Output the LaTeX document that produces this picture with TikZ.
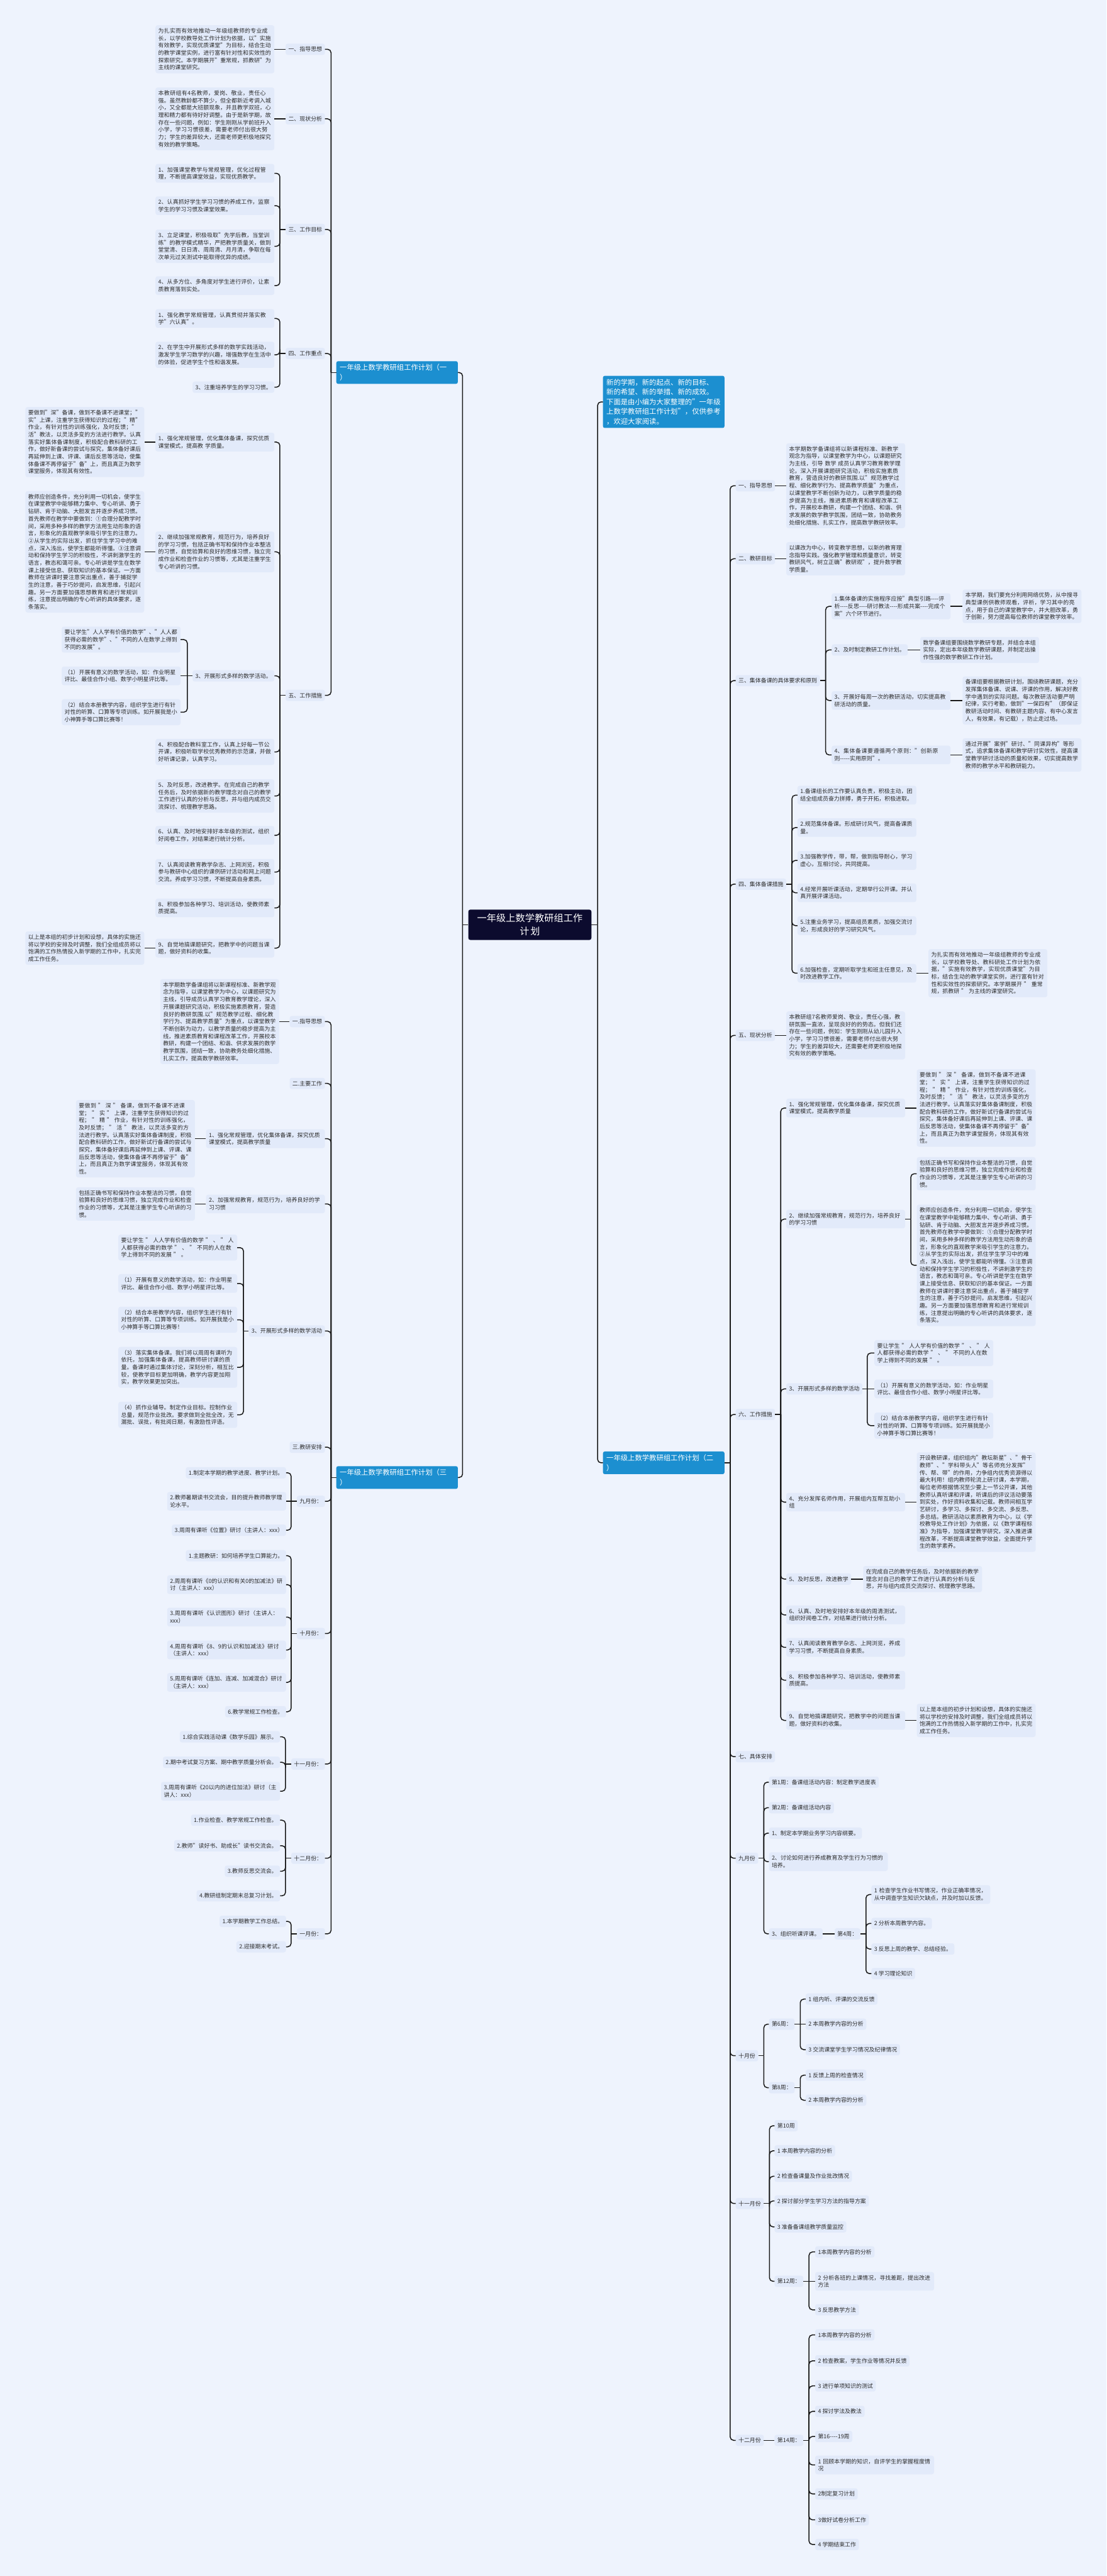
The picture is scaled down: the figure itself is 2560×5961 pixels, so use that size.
\documentclass[tikz,border=0pt]{standalone}
\usepackage{fontspec}
\setmainfont{Noto Sans CJK SC}
\XeTeXlinebreaklocale "zh"
\XeTeXlinebreakskip=0pt plus 1pt
\definecolor{bgC}{RGB}{238,243,253}
\definecolor{nodef}{RGB}{226,234,250}
\definecolor{blueC}{RGB}{28,143,208}
\definecolor{rootC}{RGB}{12,11,46}
\definecolor{txt}{RGB}{45,45,45}
\definecolor{linec}{RGB}{25,25,25}
\newcommand\hy{\mbox{-}}
\tikzset{
 conn/.style={draw=linec, line width=2.2pt, rounded corners=8pt},
 nbox/.style={fill=nodef, rounded corners=5pt, inner xsep=6.5pt, inner ysep=7pt, text=txt, font=\fontsize{13}{17}\selectfont},
 npara/.style={nbox, text width=262pt, align=left},
 nblue/.style={fill=blueC, rounded corners=4pt, text=white, inner xsep=8pt, inner ysep=7pt, font=\fontsize{16.5}{22.7}\selectfont, text width=265pt, align=left},
 nroot/.style={fill=rootC, rounded corners=5pt, text=white, font=\fontsize{22}{30}\selectfont, text width=262pt, align=center, inner xsep=11.5pt, inner ysep=10pt},
}
\newcommand\lcon[3]{\draw[conn] (#1.west) -- ++(-#2,0);\foreach \nn in {#3}{\draw[conn] (#1.west) ++(-#2,0) |- (\nn.east);}}
\newcommand\rcon[3]{\draw[conn] (#1.east) -- ++(#2,0);\foreach \nn in {#3}{\draw[conn] (#1.east) ++(#2,0) |- (\nn.west);}}
\newcommand\lstr[2]{\draw[conn] (#1.west) -- (#2.east);}
\newcommand\rstr[2]{\draw[conn] (#1.east) -- (#2.west);}
\begin{document}
\begin{tikzpicture}[x=1pt,y=-1pt]
\fill[bgC] (0,0) rectangle (2560,5961);
\useasboundingbox (0,0) rectangle (2560,5961);

% ---------------- centre and branches
\node[nroot] (ctr) at (1226,2140) {一年级上数学教研组工作\\计划};
\node[nblue,anchor=west] (b1) at (778,862) {一年级上数学教研组工作计划（一\\）};
\node[nblue,anchor=west] (b3) at (778,3419) {一年级上数学教研组工作计划（三\\）};
\node[nblue,anchor=west] (b2) at (1395,3385) {一年级上数学教研组工作计划（二\\）};
\node[nblue,anchor=west] (tb) at (1395,930) {新的学期，新的起点、新的目标、\\新的希望、新的举措、新的成效。\\下面是由小编为大家整理的"一年级\\上数学教研组工作计划"，仅供参考\\，欢迎大家阅读。};

% ---------------- left branch (一)
\node[nbox,anchor=east] (a1) at (752,114) {一、指导思想};
\node[npara,anchor=east] (a1p) at (635,114) {为扎实而有效地推动一年级组教师的专业成长，以学校教导处工作计划为依据，以"实施有效教学，实现优质课堂"为目标，结合生动的教学课堂实例，进行富有针对性和实效性的探索研究。本学期展开"重常规，抓教研"为主线的课堂研究。};
\node[nbox,anchor=east] (a2) at (752,275) {二、现状分析};
\node[npara,anchor=east] (a2p) at (635,275) {本教研组有4名教师，爱岗、敬业，责任心强。虽然教龄都不算少，但全都新近考调入城小，又全都是大班额现象，并且教学双班，心理和精力都有待好好调整。由于是新学期，故存在一些问题，例如：学生刚刚从学前班升入小学，学习习惯很差，需要老师付出很大努力；学生的差异较大，还需老师更积极地探究有效的教学策略。};
\node[nbox,anchor=east] (a3) at (752,531) {三、工作目标};
\node[npara,anchor=east] (a31) at (635,401) {1、加强课堂教学与常规管理，优化过程管理，不断提高课堂效益，实现优质教学。};
\node[npara,anchor=east] (a32) at (635,476) {2、认真抓好学生学习习惯的养成工作，监察学生的学习习惯及课堂效果。};
\node[npara,anchor=east] (a33) at (635,570) {3、立足课堂，积极吸取"先学后教，当堂训练"的教学模式精华，严把教学质量关，做到堂堂清、日日清、周周清、月月清，争取在每次单元过关测试中能取得优异的成绩。};
\node[npara,anchor=east] (a34) at (635,661) {4、从多方位、多角度对学生进行评价，让素质教育落到实处。};
\node[nbox,anchor=east] (a4) at (752,818) {四、工作重点};
\node[npara,anchor=east] (a41) at (635,737) {1、强化教学常规管理，认真贯彻并落实教学"六认真"。};
\node[npara,anchor=east] (a42) at (635,821) {2、在学生中开展形式多样的数学实践活动，激发学生学习数学的兴趣，增强数学在生活中的体验，促进学生个性和谐发展。};
\node[nbox,anchor=east] (a43) at (635,896) {3、注重培养学生的学习习惯。};
\node[nbox,anchor=east] (a5) at (752,1609) {五、工作措施};
\node[npara,anchor=east] (a51) at (635,1023) {1、强化常规管理，优化集体备课，探究优质课堂模式，提高教 学质量。};
\node[npara,anchor=east] (a51p) at (334,1023) {要做到"深"备课，做到不备课不进课堂；"实"上课，注重学生获得知识的过程；"精"作业，有针对性的训练强化，及时反馈；"活"教法，以灵活多变的方法进行教学。认真落实好集体备课制度，积极配合教科研的工作，做好新备课的尝试与探究，集体备好课后再延伸到上课、评课、课后反思等活动，使集体备课不再停留于"备"上，而且真正为数学课堂服务，体现其有效性。};
\node[npara,anchor=east] (a52) at (635,1277) {2、继续加强常规教育，规范行为，培养良好的学习习惯，包括正确书写和保持作业本整洁的习惯，自觉验算和良好的思维习惯，独立完成作业和检查作业的习惯等，尤其是注重学生专心听讲的习惯。};
\node[npara,anchor=east] (a52p) at (334,1277) {教师应创造条件，充分利用一切机会，使学生在课堂教学中能够精力集中、专心听讲、勇于钻研、肯于动脑、大胆发言并逐步养成习惯。首先教师在教学中要做到：①合理分配教学时间，采用多种多样的教学方法用生动形象的语言，形象化的直观教学来吸引学生的注意力。②从学生的实际出发，抓住学生学习中的难点，深入浅出，使学生都能听得懂。③注意调动和保持学生学习的积极性，不讲刺激学生的语言，教态和蔼可亲。专心听讲是学生在数学课上接受信息、获取知识的基本保证。一方面教师在讲课时要注意突出重点，善于捕捉学生的注意，善于巧妙提问，启发思维，引起兴趣。另一方面要加强思想教育和进行常规训练，注意提出明确的专心听讲的具体要求，逐条落实。};
\node[nbox,anchor=east] (a53) at (635,1564) {3、开展形式多样的数学活动。};
\node[npara,anchor=east] (a531) at (418,1480) {要让学生"人人学有价值的数学"、"人人都获得必需的数学"、"不同的人在数学上得到不同的发展"。};
\node[npara,anchor=east] (a532) at (418,1564) {（1）开展有意义的数学活动，如：作业明星评比、最佳合作小组、数学小明星评比等。};
\node[npara,anchor=east] (a533) at (418,1648) {（2）结合本册教学内容，组织学生进行有针对性的听算、口算等专项训练。如开展我是小小神算手等口算比赛等！};
\node[npara,anchor=east] (a54) at (635,1740) {4、积极配合教科室工作，认真上好每一节公开课，积极听取学校优秀教师的示范课，并做好听课记录，认真学习。};
\node[npara,anchor=east] (a55) at (635,1842) {5、及时反思，改进教学。在完成自己的教学任务后，及时依据新的教学理念对自己的教学工作进行认真的分析与反思，并与组内成员交流探讨、梳理教学思路。};
\node[npara,anchor=east] (a56) at (635,1933) {6、认真、及时地安排好本年级的测试，组织好阅卷工作，对结果进行统计分析。};
\node[npara,anchor=east] (a57) at (635,2018) {7、认真阅读教育教学杂志、上网浏览，积极参与教研中心组织的课例研讨活动和网上问题交流。养成学习习惯，不断提高自身素质。};
\node[npara,anchor=east] (a58) at (635,2101) {8、积极参加各种学习、培训活动，使教师素质提高。};
\node[npara,anchor=east] (a59) at (635,2194) {9、自觉地搞课题研究，把教学中的问题当课题，做好资料的收集。};
\node[npara,anchor=east] (a59p) at (334,2194) {以上是本组的初步计划和设想，具体的实施还将以学校的安排及时调整，我们全组成员将以饱满的工作热情投入新学期的工作中，扎实完成工作任务。};

% ---------------- left branch (三)
\node[nbox,anchor=east] (c1) at (752,2364) {一.指导思想};
\node[npara,anchor=east] (c1p) at (646,2364) {本学期数学备课组将以新课程标准、新教学观念为指导，以课堂教学为中心，以课题研究为主线，引导成员认真学习教育教学理论，深入开展课题研究活动，积极实施素质教育，营造良好的教研氛围.以"规范教学过程、细化教学行为、提高教学质量"为重点，以课堂教学不断创新为动力，以教学质量的稳步提高为主线，推进素质教育和课程改革工作，开展校本教研，构建一个团结、和谐、供求发展的数学教学氛围，团结一致，协助教务处细化措施、扎实工作，提高数学教研效率。};
\node[nbox,anchor=east] (c2) at (752,2507) {二.主要工作};
\node[npara,anchor=east] (c3) at (752,2635) {1、强化常规管理，优化集体备课，探究优质课堂模式，提高教学质量};
\node[npara,anchor=east] (c3p) at (451,2635) {要做到 " 深 " 备课，做到不备课不进课堂； " 实 " 上课，注重学生获得知识的过程； " 精 " 作业，有针对性的训练强化，及时反馈； " 活 " 教法，以灵活多变的方法进行教学。认真落实好集体备课制度，积极配合教科研的工作，做好新试行备课的尝试与探究，集体备好课后再延伸到上课、评课、课后反思等活动，使集体备课不再停留于"备"上，而且真正为数学课堂服务，体现其有效性。};
\node[npara,anchor=east] (c4) at (752,2786) {2、加强常规教育，规范行为，培养良好的学习习惯};
\node[npara,anchor=east] (c4p) at (451,2786) {包括正确书写和保持作业本整洁的习惯，自觉验算和良好的思维习惯，独立完成作业和检查作业的习惯等，尤其是注重学生专心听讲的习惯。};
\node[nbox,anchor=east] (c5) at (752,3080) {3、开展形式多样的数学活动};
\node[npara,anchor=east] (c51) at (549,2887) {要让学生 " 人人学有价值的数学 " 、 " 人人都获得必需的数学 " 、 " 不同的人在数学上得到不同的发展 " 。};
\node[npara,anchor=east] (c52) at (549,2970) {（1）开展有意义的数学活动，如：作业明星评比、最佳合作小组、数学小明星评比等。};
\node[npara,anchor=east] (c53) at (549,3054) {（2）结合本册教学内容，组织学生进行有针对性的听算、口算等专项训练。如开展我是小小神算手等口算比赛等！};
\node[npara,anchor=east] (c54) at (549,3164) {（3）落实集体备课。我们将以周周有课听为依托，加强集体备课，提高教师研讨课的质量。备课时通过集体讨论，深刻分析，相互比较，使教学目标更加明确，教学内容更加翔实，教学效果更加突出。};
\node[npara,anchor=east] (c55) at (549,3274) {（4）抓作业辅导。制定作业目标。控制作业总量，规范作业批改。要求做到全批全改，无漏批、误批，有批阅日期，有激励性评语。};
\node[nbox,anchor=east] (c6) at (752,3349) {三.教研安排};
\node[nbox,anchor=east] (c7) at (752,3474) {九月份：};
\node[nbox,anchor=east] (c71) at (662,3408) {1.制定本学期的教学进度、教学计划。};
\node[npara,anchor=east] (c72) at (662,3474) {2.教师暑期读书交流会，目的提升教师教学理论水平。};
\node[nbox,anchor=east] (c73) at (662,3541) {3.周周有课听《位置》研讨（主讲人：xxx）};
\node[nbox,anchor=east] (c8) at (752,3780) {十月份：};
\node[nbox,anchor=east] (c81) at (662,3600) {1.主题教研：如何培养学生口算能力。};
\node[npara,anchor=east] (c82) at (662,3667) {2.周周有课听《0的认识和有关0的加减法》研讨（主讲人：xxx）};
\node[npara,anchor=east] (c83) at (662,3742) {3.周周有课听《认识图形》研讨（主讲人：xxx）};
\node[npara,anchor=east] (c84) at (662,3818) {4.周周有课听《8、9的认识和加减法》研讨（主讲人：xxx）};
\node[npara,anchor=east] (c85) at (662,3893) {5.周周有课听《连加、连减、加减混合》研讨（主讲人：xxx）};
\node[nbox,anchor=east] (c86) at (662,3961) {6.教学常规工作检查。};
\node[nbox,anchor=east] (c9) at (752,4082) {十一月份：};
\node[nbox,anchor=east] (c91) at (648,4019) {1.综合实践活动课《数学乐园》展示。};
\node[nbox,anchor=east] (c92) at (648,4078) {2.期中考试复习方案、期中教学质量分析会。};
\node[npara,anchor=east] (c93) at (648,4145) {3.周周有课听《20以内的进位加法》研讨（主讲人：xxx）};
\node[nbox,anchor=east] (c10) at (752,4300) {十二月份：};
\node[nbox,anchor=east] (c101) at (648,4212) {1.作业检查、教学常规工作检查。};
\node[nbox,anchor=east] (c102) at (648,4271) {2.教师"读好书、助成长"读书交流会。};
\node[nbox,anchor=east] (c103) at (648,4330) {3.教师反思交流会。};
\node[nbox,anchor=east] (c104) at (648,4387) {4.教研组制定期末总复习计划。};
\node[nbox,anchor=east] (c11) at (752,4475) {一月份：};
\node[nbox,anchor=east] (c111) at (662,4446) {1.本学期教学工作总结。};
\node[nbox,anchor=east] (c112) at (662,4505) {2.迎接期末考试。};

% ---------------- right branch (二)
\node[nbox,anchor=west] (r1) at (1702,1124) {一、指导思想};
\node[npara,anchor=west] (r1p) at (1819,1124) {本学期数学备课组将以新课程标准、新教学观念为指导，以课堂教学为中心，以课题研究为主线，引导 数学 成员认真学习教育教学理论，深入开展课题研究活动，积极实施素质教育，营造良好的教研氛围.以"规范教学过程、细化教学行为、提高教学质量"为重点，以课堂教学不断创新为动力，以教学质量的稳步提高为主线，推进素质教育和课程改革工作，开展校本教研，构建一个团结、和谐、供求发展的数学教学氛围，团结一致，协助教务处细化措施、扎实工作，提高数学教研效率。};
\node[nbox,anchor=west] (r2) at (1702,1293) {二、教研目标};
\node[npara,anchor=west] (r2p) at (1819,1293) {以课改为中心，转变教学思想，以新的教育理念指导实践。强化教学管理和质量意识，转变教研风气，树立正确"教研观"，提升数学教学质量。};
\node[nbox,anchor=west] (r3) at (1702,1575) {三、集体备课的具体要求和原则};
\node[npara,anchor=west] (r31) at (1924,1403) {1.集体备课的实施程序应按"典型引路\hy\hy\hy\hy 评析\hy\hy\hy\hy 反思\hy\hy\hy\hy 研讨教法\hy\hy\hy\hy 形成共案\hy\hy\hy\hy 完成个案"六个环节进行。};
\node[npara,anchor=west] (r31p) at (2227,1403) {本学期，我们要充分利用网络优势，从中搜寻典型课例供教师观看，评析，学习其中的亮点，用于自己的课堂教学中，并大胆改革，勇于创新，努力提高每位教师的课堂教学效率。};
\node[nbox,anchor=west] (r32) at (1924,1504) {2、及时制定教研工作计划。};
\node[npara,anchor=west] (r32p) at (2129,1504) {数学备课组要围绕数学教研专题，并结合本组实际，定出本年级数学教研课题，并制定出操作性强的数学教研工作计划。};
\node[npara,anchor=west] (r33) at (1924,1621) {3、开展好每周一次的教研活动，切实提高教研活动的质量。};
\node[npara,anchor=west] (r33p) at (2227,1621) {备课组要根据教研计划，围绕教研课题，充分发挥集体备课、说课、评课的作用，解决好教学中遇到的实际问题。每次教研活动要严明纪律，实行考勤，做到"一保四有"（即保证教研活动时间、有教研主题内容、有中心发言人，有效果，有记载），防止走过场。};
\node[npara,anchor=west] (r34) at (1924,1747) {4、集体备课要遵循两个原则："创新原则\hy\hy\hy\hy\hy 实用原则"。};
\node[npara,anchor=west] (r34p) at (2227,1747) {通过开展"案例"研讨、"同课异构"等形式，追求集体备课和教学研讨实效性，提高课堂教学研讨活动的质量和效果，切实提高数学教师的教学水平和教研能力。};
\node[nbox,anchor=west] (r4) at (1702,2046) {四、集体备课措施};
\node[npara,anchor=west] (r41) at (1845,1840) {1.备课组长的工作要认真负责，积极主动，团结全组成员奋力拼搏，勇于开拓，积极进取。};
\node[npara,anchor=west] (r42) at (1845,1915) {2.规范集体备课。形成研讨风气，提高备课质量。};
\node[npara,anchor=west] (r43) at (1845,1991) {3.加强教学传，带，帮，做到指导耐心，学习虚心，互相讨论，共同提高。};
\node[npara,anchor=west] (r44) at (1845,2066) {4.经常开展听课活动，定期举行公开课。并认真开展评课活动。};
\node[npara,anchor=west] (r45) at (1845,2142) {5.注重业务学习，提高组员素质，加强交流讨论，形成良好的学习研究风气。};
\node[npara,anchor=west] (r46) at (1845,2252) {6.加强检查，定期听取学生和班主任意见，及时改进教学工作。};
\node[npara,anchor=west] (r46p) at (2148,2252) {为扎实而有效地推动一年级组教师的专业成长，以学校教导处、教科研处工作计划为依据，"实施有效教学，实现优质课堂"为目标，结合生动的教学课堂实例，进行富有针对性和实效性的探索研究。本学期展开 " 重常规，抓教研 " 为主线的课堂研究。};
\node[nbox,anchor=west] (r5) at (1702,2396) {五、现状分析};
\node[npara,anchor=west] (r5p) at (1819,2396) {本教研组7名教师爱岗、敬业，责任心强，教研氛围一直浓，呈现良好的的势态。但我们还存在一些问题，例如：学生刚刚从幼儿园升入小学，学习习惯很差，需要老师付出很大努力；学生的差异较大，还需要老师更积极地探究有效的教学策略。};
\node[nbox,anchor=west] (r6) at (1702,3273) {六、工作措施};
\node[npara,anchor=west] (r61) at (1819,2564) {1、强化常规管理，优化集体备课，探究优质课堂模式，提高教学质量};
\node[npara,anchor=west] (r61p) at (2121,2564) {要做到 " 深 " 备课，做到不备课不进课堂； " 实 " 上课，注重学生获得知识的过程； " 精 " 作业，有针对性的训练强化，及时反馈； " 活 " 教法，以灵活多变的方法进行教学。认真落实好集体备课制度，积极配合教科研的工作，做好新试行备课的尝试与探究，集体备好课后再延伸到上课、评课、课后反思等活动，使集体备课不再停留于"备"上，而且真正为数学课堂服务，体现其有效性。};
\node[npara,anchor=west] (r62) at (1819,2821) {2、继续加强常规教育，规范行为，培养良好的学习习惯};
\node[npara,anchor=west] (r621) at (2121,2716) {包括正确书写和保持作业本整洁的习惯，自觉验算和良好的思维习惯，独立完成作业和检查作业的习惯等，尤其是注重学生专心听讲的习惯。};
\node[npara,anchor=west] (r622) at (2121,2928) {教师应创造条件，充分利用一切机会，使学生在课堂教学中能够精力集中、专心听讲、勇于钻研、肯于动脑、大胆发言并逐步养成习惯。首先教师在教学中要做到：①合理分配教学时间，采用多种多样的教学方法用生动形象的语言，形象化的直观教学来吸引学生的注意力。②从学生的实际出发，抓住学生学习中的难点，深入浅出，使学生都能听得懂。③注意调动和保持学生学习的积极性，不讲刺激学生的语言，教态和蔼可亲。专心听讲是学生在数学课上接受信息、获取知识的基本保证。一方面教师在讲课时要注意突出重点，善于捕捉学生的注意，善于巧妙提问，启发思维，引起兴趣。另一方面要加强思想教育和进行常规训练，注意提出明确的专心听讲的具体要求，逐条落实。};
\node[nbox,anchor=west] (r63) at (1819,3214) {3、开展形式多样的数学活动};
\node[npara,anchor=west] (r631) at (2023,3131) {要让学生 " 人人学有价值的数学 " 、 " 人人都获得必需的数学 " 、 " 不同的人在数学上得到不同的发展 " 。};
\node[npara,anchor=west] (r632) at (2023,3214) {（1）开展有意义的数学活动，如：作业明星评比、最佳合作小组、数学小明星评比等。};
\node[npara,anchor=west] (r633) at (2023,3299) {（2）结合本册教学内容，组织学生进行有针对性的听算、口算等专项训练。如开展我是小小神算手等口算比赛等！};
\node[npara,anchor=west] (r64) at (1819,3476) {4、充分发挥名师作用，开展组内互帮互助小组};
\node[npara,anchor=west] (r64p) at (2121,3476) {开设教研课，组织组内"教坛新星"、"骨干教师"、"学科带头人"等名师充分发挥"传、帮、带"的作用，力争组内优秀资源得以最大利用！组内教师轮流上研讨课，本学期，每位老师根据情况至少要上一节公开课，其他教师认真听课和评课，听课后的评议活动要落到实处，作好资料收集和记载。教师间相互学艺研讨，多学习、多探讨、多交流、多反思、多总结。教研活动以素质教育为中心，以《学校教导处工作计划》为依据，以《数学课程标准》为指导，加强课堂教学研究，深入推进课程改革，不断提高课堂教学效益，全面提升学生的数学素养。};
\node[nbox,anchor=west] (r65) at (1819,3654) {5、及时反思，改进教学};
\node[npara,anchor=west] (r65p) at (1997,3654) {在完成自己的教学任务后，及时依据新的教学理念对自己的教学工作进行认真的分析与反思，并与组内成员交流探讨、梳理教学思路。};
\node[npara,anchor=west] (r66) at (1819,3737) {6、认真、及时地安排好本年级的周清测试，组织好阅卷工作，对结果进行统计分析。};
\node[npara,anchor=west] (r67) at (1819,3812) {7、认真阅读教育教学杂志、上网浏览，养成学习习惯，不断提高自身素质。};
\node[npara,anchor=west] (r68) at (1819,3888) {8、积极参加各种学习、培训活动，使教师素质提高。};
\node[npara,anchor=west] (r69) at (1819,3981) {9、自觉地搞课题研究，把教学中的问题当课题，做好资料的收集。};
\node[npara,anchor=west] (r69p) at (2121,3981) {以上是本组的初步计划和设想，具体的实施还将以学校的安排及时调整，我们全组成员将以饱满的工作热情投入新学期的工作中，扎实完成工作任务。};
\node[nbox,anchor=west] (r7) at (1702,4065) {七、具体安排};
\node[nbox,anchor=west] (r8) at (1702,4300) {九月份};
\node[nbox,anchor=west] (r81) at (1779,4124) {第1周：备课组活动内容：制定教学进度表};
\node[nbox,anchor=west] (r82) at (1779,4183) {第2周：备课组活动内容};
\node[nbox,anchor=west] (r83) at (1779,4242) {1、制定本学期业务学习内容纲要。};
\node[npara,anchor=west] (r84) at (1779,4308) {2、讨论如何进行养成教育及学生行为习惯的培养。};
\node[nbox,anchor=west] (r85) at (1779,4475) {3、组织听课评课。};
\node[nbox,anchor=west] (r86) at (1931,4475) {第4周：};
\node[npara,anchor=west] (r861) at (2016,4384) {1 检查学生作业书写情况，作业正确率情况，从中调查学生知识欠缺点，并及时加以反馈。};
\node[nbox,anchor=west] (r862) at (2016,4451) {2 分析本周教学内容。};
\node[nbox,anchor=west] (r863) at (2016,4510) {3 反思上周的教学、总结经验。};
\node[nbox,anchor=west] (r864) at (2016,4567) {4 学习理论知识};
\node[nbox,anchor=west] (r9) at (1702,4757) {十月份};
\node[nbox,anchor=west] (r91) at (1779,4684) {第6周：};
\node[nbox,anchor=west] (r911) at (1864,4626) {1 组内听、评课的交流反馈};
\node[nbox,anchor=west] (r912) at (1864,4684) {2 本周教学内容的分析};
\node[nbox,anchor=west] (r913) at (1864,4743) {3 交流课堂学生学习情况及纪律情况};
\node[nbox,anchor=west] (r92) at (1779,4831) {第8周：};
\node[nbox,anchor=west] (r921) at (1864,4802) {1 反馈上周的检查情况};
\node[nbox,anchor=west] (r922) at (1864,4860) {2 本周教学内容的分析};
\node[nbox,anchor=west] (r10) at (1702,5099) {十一月份};
\node[nbox,anchor=west] (r101) at (1792,4919) {第10周};
\node[nbox,anchor=west] (r102) at (1792,4977) {1 本周教学内容的分析};
\node[nbox,anchor=west] (r103) at (1792,5036) {2 检查备课量及作业批改情况};
\node[nbox,anchor=west] (r104) at (1792,5093) {2 探讨部分学生学习方法的指导方案};
\node[nbox,anchor=west] (r105) at (1792,5153) {3 准备备课组教学质量监控};
\node[nbox,anchor=west] (r106) at (1792,5279) {第12周：};
\node[nbox,anchor=west] (r1061) at (1886,5211) {1本周教学内容的分析};
\node[npara,anchor=west] (r1062) at (1886,5279) {2 分析各班的上课情况，寻找差距，提出改进方法};
\node[nbox,anchor=west] (r1063) at (1886,5345) {3 反思教学方法};
\node[nbox,anchor=west] (r11) at (1702,5647) {十二月份};
\node[nbox,anchor=west] (r111) at (1792,5647) {第14周：};
\node[nbox,anchor=west] (s1) at (1886,5403) {1本周教学内容的分析};
\node[nbox,anchor=west] (s2) at (1886,5463) {2 检查教案，学生作业等情况并反馈};
\node[nbox,anchor=west] (s3) at (1886,5521) {3 进行单项知识的测试};
\node[nbox,anchor=west] (s4) at (1886,5580) {4 探讨学法及教法};
\node[nbox,anchor=west] (s5) at (1886,5638) {第16\hy\hy\hy\hy 19周};
\node[npara,anchor=west] (s6) at (1886,5704) {1 回顾本学期的知识，自评学生的掌握程度情况};
\node[nbox,anchor=west] (s7) at (1886,5771) {2制定复习计划};
\node[nbox,anchor=west] (s8) at (1886,5831) {3做好试卷分析工作};
\node[nbox,anchor=west] (s9) at (1886,5888) {4 学期结束工作};

% ---------------- connectors
\lcon{ctr}{13}{b1,b3}
\rcon{ctr}{14}{tb,b2}
\lcon{b1}{12}{a1,a2,a3,a4,a5}
\lstr{a1}{a1p}
\lstr{a2}{a2p}
\lcon{a3}{13}{a31,a32,a33,a34}
\lcon{a4}{13}{a41,a42,a43}
\lcon{a5}{13}{a51,a52,a53,a54,a55,a56,a57,a58,a59}
\lstr{a51}{a51p}
\lstr{a52}{a52p}
\lstr{a59}{a59p}
\lcon{a53}{12}{a531,a533}
\lstr{a53}{a532}
\lcon{b3}{12}{c1,c2,c3,c4,c5,c6,c7,c8,c9,c10,c11}
\lstr{c1}{c1p}
\lstr{c3}{c3p}
\lstr{c4}{c4p}
\lcon{c5}{12}{c51,c52,c53,c54,c55}
\lcon{c7}{13}{c71,c73}
\lstr{c7}{c72}
\lcon{c8}{13}{c81,c82,c83,c84,c85,c86}
\lcon{c9}{13}{c91,c92,c93}
\lcon{c10}{13}{c101,c102,c103,c104}
\lcon{c11}{13}{c111,c112}
\rcon{b2}{13}{r1,r2,r3,r4,r5,r6,r7,r8,r9,r10,r11}
\rstr{r1}{r1p}
\rstr{r2}{r2p}
\rcon{r3}{13}{r31,r32,r33,r34}
\rstr{r31}{r31p}
\rstr{r32}{r32p}
\rstr{r33}{r33p}
\rstr{r34}{r34p}
\rcon{r4}{13}{r41,r42,r43,r44,r45,r46}
\rstr{r46}{r46p}
\rstr{r5}{r5p}
\rcon{r6}{13}{r61,r62,r63,r64,r65,r66,r67,r68,r69}
\rstr{r61}{r61p}
\rcon{r62}{13}{r621,r622}
\rcon{r63}{11}{r631,r633}
\rstr{r63}{r632}
\rstr{r64}{r64p}
\rstr{r65}{r65p}
\rstr{r69}{r69p}
\rcon{r8}{13}{r81,r82,r83,r84,r85}
\rstr{r85}{r86}
\rcon{r86}{13}{r861,r862,r863,r864}
\rcon{r9}{13}{r91,r92}
\rcon{r91}{13}{r911,r913}
\rstr{r91}{r912}
\rcon{r92}{13}{r921,r922}
\rcon{r10}{13}{r101,r102,r103,r104,r105,r106}
\rcon{r106}{13}{r1061,r1063}
\rstr{r106}{r1062}
\rstr{r11}{r111}
\rcon{r111}{13}{s1,s2,s3,s4,s5,s6,s7,s8,s9}
\end{tikzpicture}
\end{document}
